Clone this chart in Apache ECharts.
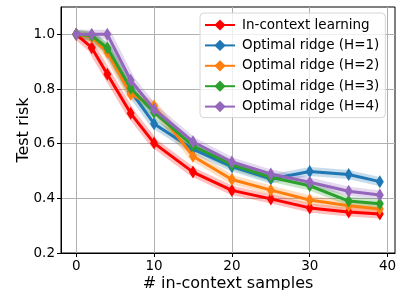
<!DOCTYPE html>
<html>
<head>
<meta charset="utf-8">
<script src="https://cdn.jsdelivr.net/npm/echarts@6/dist/echarts.min.js"></script>
<style>
  html, body { margin: 0; padding: 0; background: #fff; }
  #chart { width: 403px; height: 290px; }
</style>
</head>
<body>
<div id="chart"></div>
<script>
// x: number of in-context samples
var samples = [0, 2, 4, 7, 10, 15, 20, 25, 30, 35, 39];

// test risk per method
var iclRisk = [1.0, 0.951, 0.854, 0.711, 0.602, 0.496, 0.429, 0.398, 0.365, 0.350, 0.343];
var ridgeH1 = [1.0, 0.992, 0.945, 0.792, 0.673, 0.580, 0.516, 0.471, 0.498, 0.487, 0.461];
var ridgeH2 = [1.0, 0.990, 0.934, 0.781, 0.738, 0.554, 0.469, 0.430, 0.394, 0.373, 0.361];
var ridgeH3 = [1.0, 0.995, 0.950, 0.803, 0.715, 0.592, 0.523, 0.477, 0.446, 0.390, 0.380];
var ridgeH4 = [1.0, 1.0, 1.0, 0.832, 0.726, 0.607, 0.533, 0.489, 0.459, 0.426, 0.412];

var seriesNames = ['In-context learning', 'Optimal ridge (H=1)', 'Optimal ridge (H=2)',
    'Optimal ridge (H=3)', 'Optimal ridge (H=4)'];
var seriesColors = ['#ff0000', '#1f77b4', '#ff7f0e', '#2ca02c', '#9467bd'];
var seriesValues = [iclRisk, ridgeH1, ridgeH2, ridgeH3, ridgeH4];

var xTicks = [0, 10, 20, 30, 40];
var yTicks = [0.2, 0.4, 0.6, 0.8, 1.0];

var font = 'DejaVu Sans';

var chart = echarts.init(document.getElementById('chart'), null, { renderer: 'canvas' });

var series = [];
// translucent bands under the lines
seriesValues.forEach(function (vals, i) {
    series.push({
        name: seriesNames[i] + ' band',
        type: 'line',
        data: samples.map(function (x, k) { return [x, vals[k]]; }),
        showSymbol: false,
        silent: true,
        z: 1,
        lineStyle: { color: seriesColors[i], width: 9, opacity: 0.25 },
        itemStyle: { color: seriesColors[i] },
        animation: false
    });
});
// main lines with thin diamonds
seriesValues.forEach(function (vals, i) {
    series.push({
        name: seriesNames[i],
        type: 'line',
        data: samples.map(function (x, k) { return [x, vals[k]]; }),
        symbol: 'diamond',
        symbolSize: [8, 13],
        showAllSymbol: true,
        z: 2 + i,
        lineStyle: { color: seriesColors[i], width: 3 },
        itemStyle: { color: seriesColors[i] },
        animation: false
    });
});

var option = {
    backgroundColor: '#fff',
    animation: false,
    grid: { left: 61, right: 8, top: 7, bottom: 37, outerBoundsMode: 'none', containLabel: false },
    legend: {
        data: seriesNames,
        orient: 'vertical',
        left: 200,
        top: 13,
        itemWidth: 30,
        itemHeight: 14,
        itemGap: 6.4,
        padding: [5, 6, 4, 4],
        backgroundColor: 'rgba(255,255,255,0.8)',
        borderColor: '#d6d6d6',
        borderWidth: 1,
        borderRadius: 4,
        textStyle: { fontFamily: font, fontSize: 13.5, color: '#000', padding: [0, 0, 0, 2] }
    },
    xAxis: {
        type: 'value',
        min: -1.95,
        max: 40.95,
        name: '# in-context samples',
        nameLocation: 'middle',
        nameGap: 23,
        nameMoveOverlap: false,
        nameTextStyle: { fontFamily: font, fontSize: 16, color: '#000' },
        axisLine: { show: true, onZero: false, lineStyle: { color: '#000', width: 1 } },
        axisTick: { show: true, customValues: xTicks, length: 4, lineStyle: { color: '#000' } },
        axisLabel: { customValues: xTicks, margin: 6, fontFamily: font, fontSize: 13.5, color: '#000' },
        splitLine: { show: true, lineStyle: { color: '#b0b0b0', width: 1 } }
    },
    yAxis: {
        type: 'value',
        min: 0.2,
        max: 1.1,
        name: 'Test risk',
        nameLocation: 'middle',
        nameGap: 29,
        nameMoveOverlap: false,
        nameTextStyle: { fontFamily: font, fontSize: 16, color: '#000' },
        axisLine: { show: true, onZero: false, lineStyle: { color: '#000', width: 1 } },
        axisTick: { show: true, customValues: yTicks, length: 4, lineStyle: { color: '#000' } },
        axisLabel: {
            customValues: yTicks, margin: 6, fontFamily: font, fontSize: 13.5, color: '#000',
            formatter: function (v) { return v.toFixed(1); }
        },
        splitLine: { show: true, lineStyle: { color: '#b0b0b0', width: 1 } }
    },
    graphic: [],
    series: series
};

chart.setOption(option);

// close the frame (top and right spines) from the grid rect
var rect = chart.getModel().getComponent('grid').coordinateSystem.getRect();
chart.setOption({
    graphic: [{
        type: 'rect',
        silent: true,
        z: 0,
        shape: { x: rect.x, y: rect.y, width: rect.width, height: rect.height },
        style: { fill: 'none', stroke: '#000', lineWidth: 1 }
    }]
});
</script>
</body>
</html>
